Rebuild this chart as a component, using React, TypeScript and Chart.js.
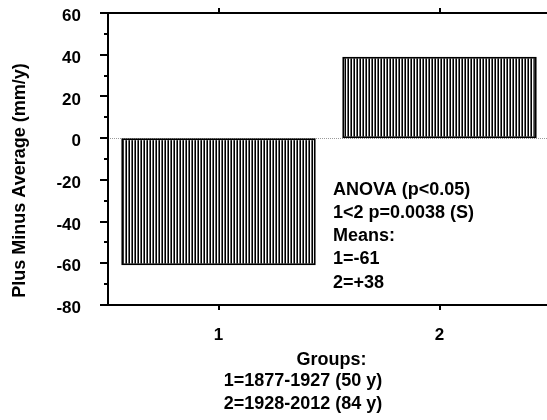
import React, { useEffect, useRef } from "react";
import { Chart, registerables } from "chart.js";

Chart.register(...registerables);

const categories = ["1", "2"];
const meanValues = [-61, 39];
const yMin = -80;
const yMax = 60;
const yStep = 20;
const yMinorStep = 10;
const yTitle = "Plus Minus Average (mm/y)";
const annotationLines = ["ANOVA (p<0.05)", "1<2 p=0.0038 (S)", "Means:", "1=-61", "2=+38"];
const groupTitle = "Groups:";
const groupLines = ["1=1877-1927 (50 y)", "2=1928-2012 (84 y)"];

const FONT = "'Liberation Sans', Arial, sans-serif";

function makePattern(): CanvasPattern | string {
  const c = document.createElement("canvas");
  c.width = 3;
  c.height = 4;
  const g = c.getContext("2d");
  if (!g) return "#888";
  g.fillStyle = "#ffffff";
  g.fillRect(0, 0, 3, 4);
  g.fillStyle = "#000000";
  g.fillRect(0, 0, 1, 4);
  g.fillStyle = "#6a6a6a";
  g.fillRect(2, 0, 1, 4);
  const p = g.createPattern(c, "repeat");
  return p || "#888";
}

export default function App() {
  const ref = useRef<HTMLCanvasElement | null>(null);

  useEffect(() => {
    const canvas = ref.current;
    if (!canvas) return;

    const axesPlugin = {
      id: "customAxes",
      beforeDatasetsDraw(chart: any) {
        const ctx = chart.ctx;
        const a = chart.chartArea;
        const y = chart.scales.y;
        const zeroY = Math.round(y.getPixelForValue(0)) + 0.5;
        ctx.save();
        ctx.strokeStyle = "#9a9a9a";
        ctx.lineWidth = 1;
        ctx.setLineDash([1, 1]);
        ctx.beginPath();
        ctx.moveTo(a.left, zeroY);
        ctx.lineTo(a.right, zeroY);
        ctx.stroke();
        ctx.restore();
      },
      afterDatasetsDraw(chart: any) {
        const ctx = chart.ctx;
        const a = chart.chartArea;
        const y = chart.scales.y;
        const x = chart.scales.x;
        ctx.save();
        ctx.strokeStyle = "#000";
        ctx.lineWidth = 2;
        ctx.beginPath();
        ctx.moveTo(a.left, a.top);
        ctx.lineTo(a.left, a.bottom);
        ctx.moveTo(a.left - 8, a.top);
        ctx.lineTo(a.right, a.top);
        ctx.moveTo(a.left - 8, a.bottom);
        ctx.lineTo(a.right, a.bottom);
        ctx.stroke();
        ctx.beginPath();
        for (let v = yMin; v <= yMax; v += yMinorStep) {
          const py = Math.round(y.getPixelForValue(v));
          const major = (v - yMin) % yStep === 0;
          if (v === yMin || v === yMax) continue;
          ctx.moveTo(a.left - (major ? 8 : 4), py);
          ctx.lineTo(a.left, py);
        }
        categories.forEach((_, i) => {
          const px = Math.round(x.getPixelForValue(i));
          ctx.moveTo(px, a.bottom);
          ctx.lineTo(px, a.bottom + 5);
          ctx.moveTo(px, a.top);
          ctx.lineTo(px, a.top - 5);
        });
        ctx.stroke();

        ctx.fillStyle = "#000";
        ctx.font = `bold 18px ${FONT}`;
        ctx.textAlign = "left";
        ctx.textBaseline = "alphabetic";
        const baseY = [194.5, 217.8, 241.1, 264.4, 287.7];
        annotationLines.forEach((t, i) => ctx.fillText(t, 333, baseY[i]));

        ctx.textAlign = "center";
        ctx.fillText(groupTitle, 331.5, 364.5);
        const gy = [386, 409];
        groupLines.forEach((t, i) => ctx.fillText(t, 303, gy[i]));

        ctx.save();
        ctx.translate(24.5, 180.5);
        ctx.rotate(-Math.PI / 2);
        ctx.textAlign = "center";
        ctx.fillText(yTitle, 0, 0);
        ctx.restore();
        ctx.restore();
      },
    };

    const pattern = makePattern();

    const chart = new Chart(canvas, {
      type: "bar",
      data: {
        labels: categories,
        datasets: [
          {
            data: meanValues,
            backgroundColor: pattern as any,
            borderColor: "#000",
            borderWidth: 2,
            borderSkipped: false,
            barPercentage: 0.88,
            categoryPercentage: 1,
          },
        ],
      },
      options: {
        responsive: false,
        animation: false,
        maintainAspectRatio: false,
        layout: { padding: { top: 13, right: 0, left: 0, bottom: 0 } },
        plugins: {
          legend: { display: false },
          tooltip: { enabled: false },
          title: { display: false },
        },
        scales: {
          x: {
            type: "category",
            offset: true,
            grid: { display: false, drawTicks: false },
            border: { display: false },
            ticks: {
              color: "#000",
              font: { family: FONT, size: 17, weight: "bold" },
              padding: 20,
              maxRotation: 0,
            },
            afterFit(scale: any) {
              scale.height = 115;
              scale.paddingLeft = 0;
              scale.paddingRight = 0;
            },
          },
          y: {
            min: yMin,
            max: yMax,
            grid: { display: false, drawTicks: false },
            border: { display: false },
            ticks: {
              stepSize: yStep,
              color: "#000",
              font: { family: FONT, size: 17, weight: "bold" },
              padding: 27,
              labelOffset: 3.5,
            },
            afterFit(scale: any) {
              scale.width = 108;
              scale.paddingTop = 0;
              scale.paddingBottom = 0;
            },
          },
        },
      },
      plugins: [axesPlugin],
    } as any);

    return () => chart.destroy();
  }, []);

  return (
    <div
      style={{
        position: "absolute",
        left: 0,
        top: 0,
        width: 547,
        height: 420,
        overflow: "hidden",
        background: "#fff",
      }}
    >
      <canvas ref={ref} width={550} height={420} style={{ display: "block" }} />
    </div>
  );
}
